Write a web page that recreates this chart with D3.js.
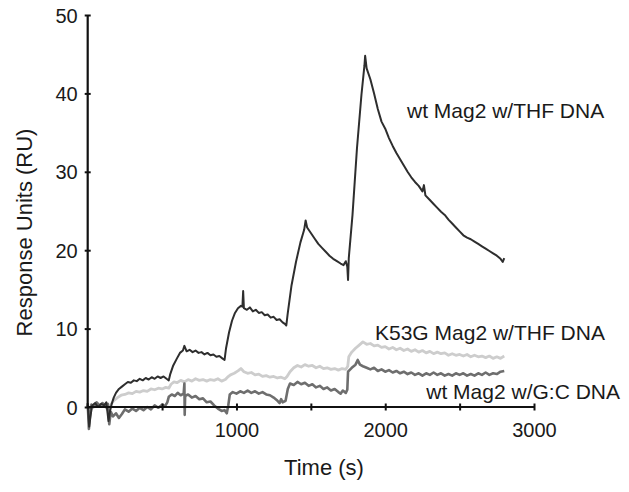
<!DOCTYPE html>
<html>
<head>
<meta charset="utf-8">
<script src="https://cdn.jsdelivr.net/npm/d3@7"></script>
<style>
  html, body { margin: 0; padding: 0; background: #fff; }
  svg { display: block; }
  text { font-family: "Liberation Sans", Arial, Helvetica, sans-serif; fill: #1a1a1a; }
</style>
</head>
<body>
<svg id="chart" width="629" height="492"></svg>
<script>
// ---- data (time in s, response in RU) ----
const xTicks = [500, 1000, 1500, 2000, 2500, 3000];
const xTickLabels = ["", "1000", "", "2000", "", "3000"];
const yTicks = [0, 10, 20, 30, 40, 50];
const yTickLabels = ["0", "10", "20", "30", "40", "50"];

const seriesNames = ["K53G Mag2 w/THF DNA", "wt Mag2 w/G:C DNA", "wt Mag2 w/THF DNA"];

const wtTHF = [
  [0,0.3],[10,-2.5],[20,-1.0],[30,0.2],[50,0.5],[70,0.0],[90,0.4],[110,0.2],[125,0.6],[140,-1.8],
  [150,-0.5],[160,0.3],[175,1.2],[190,1.8],[210,2.3],[230,2.6],[250,2.9],[270,3.2],[290,3.1],[310,3.4],
  [330,3.3],[350,3.6],[370,3.4],[390,3.7],[410,3.5],[430,3.8],[450,3.6],[470,3.9],[490,3.7],[510,3.9],
  [530,3.6],[545,3.4],[555,4.2],[575,5.3],[600,6.2],[620,6.9],[640,7.2],[650,7.8],[665,7.1],[685,7.3],
  [705,7.0],[725,7.2],[745,6.9],[765,7.0],[785,6.7],[805,6.9],[825,6.6],[845,6.7],[865,6.4],[885,6.5],
  [905,6.2],[920,6.0],[930,7.5],[950,9.5],[970,11.0],[990,12.0],[1010,12.6],[1030,12.9],[1040,12.8],[1045,14.8],
  [1050,12.6],[1070,12.4],[1090,12.7],[1110,12.2],[1130,12.4],[1150,12.0],[1170,12.1],[1190,11.7],[1210,11.8],[1230,11.4],
  [1250,11.5],[1270,11.1],[1290,11.2],[1310,10.8],[1325,10.6],[1335,10.4],[1345,12.0],[1370,15.5],[1400,18.5],[1430,21.0],
  [1455,22.6],[1465,23.8],[1475,22.9],[1500,22.2],[1525,21.5],[1550,20.8],[1575,20.3],[1600,19.8],[1625,19.3],[1650,18.9],
  [1675,18.6],[1700,18.3],[1720,18.1],[1735,18.6],[1745,17.9],[1750,16.2],[1755,19.0],[1780,24.5],[1810,33.0],[1840,39.8],
  [1860,43.5],[1865,44.8],[1875,43.2],[1900,41.8],[1925,40.0],[1950,38.0],[1975,36.4],[2000,35.5],[2025,34.3],[2050,33.3],
  [2075,32.4],[2100,31.6],[2125,30.8],[2150,30.0],[2175,29.3],[2200,28.7],[2225,28.2],[2250,27.5],[2260,28.3],[2270,27.0],
  [2300,26.4],[2325,25.9],[2350,25.4],[2375,24.9],[2400,24.5],[2425,23.9],[2450,23.4],[2475,22.9],[2500,22.4],[2525,21.9],
  [2550,21.6],[2575,21.4],[2600,21.1],[2625,20.8],[2650,20.5],[2675,20.2],[2700,19.9],[2725,19.6],[2750,19.3],[2775,18.9],
  [2790,18.5],[2800,19.0]
];

const k53gTHF = [
  [0,0.2],[10,-1.5],[25,0.0],[50,0.3],[80,0.1],[110,0.3],[140,-0.5],[155,0.3],[175,0.8],[200,1.2],
  [225,1.5],[250,1.6],[275,1.8],[300,1.7],[325,2.0],[350,1.9],[375,2.1],[400,2.0],[425,2.3],[450,2.2],
  [475,2.4],[500,2.3],[525,2.5],[545,2.4],[560,2.9],[580,3.2],[600,3.1],[625,3.4],[650,3.2],[675,3.5],
  [700,3.3],[725,3.6],[750,3.4],[775,3.5],[800,3.3],[825,3.5],[850,3.4],[875,3.6],[900,3.3],[925,3.5],
  [940,3.8],[960,4.1],[985,4.3],[1010,4.6],[1030,4.9],[1050,4.5],[1075,4.3],[1100,4.4],[1125,4.1],[1150,4.2],
  [1175,3.9],[1200,4.0],[1225,3.8],[1250,3.9],[1275,3.7],[1300,3.8],[1325,3.6],[1340,3.9],[1360,4.5],[1385,5.0],
  [1410,5.3],[1435,5.1],[1460,5.4],[1485,5.2],[1510,5.3],[1535,5.0],[1560,5.2],[1585,4.9],[1610,5.0],[1635,4.8],
  [1660,4.9],[1685,4.7],[1710,4.9],[1735,4.8],[1748,5.2],[1755,6.4],[1775,7.0],[1800,7.5],[1825,7.9],[1850,8.3],
  [1875,8.0],[1900,8.1],[1925,7.8],[1950,7.9],[1975,7.6],[2000,7.7],[2025,7.4],[2050,7.6],[2075,7.3],[2100,7.5],
  [2125,7.2],[2150,7.4],[2175,7.1],[2200,7.3],[2225,7.0],[2250,7.2],[2275,6.9],[2300,7.1],[2325,6.8],[2350,7.0],
  [2375,6.8],[2400,6.9],[2425,6.6],[2450,6.8],[2475,6.6],[2500,6.7],[2525,6.5],[2550,6.7],[2575,6.4],[2600,6.6],
  [2625,6.4],[2650,6.5],[2675,6.3],[2700,6.5],[2725,6.2],[2750,6.4],[2775,6.2],[2800,6.5]
];

const wtGC = [
  [0,0.5],[8,-2.8],[15,-1.2],[25,0.3],[40,0.0],[60,0.6],[80,0.2],[100,0.5],[120,0.0],[135,0.4],
  [145,-2.2],[155,-0.6],[170,-1.2],[190,-0.8],[210,-1.4],[230,-0.9],[250,-0.3],[275,-0.6],[300,-0.2],[325,-0.5],
  [350,-0.1],[375,-0.4],[400,0.0],[425,-0.3],[450,0.2],[475,-0.1],[500,0.3],[520,0.1],[535,0.6],[545,1.3],
  [565,1.6],[585,1.4],[605,1.8],[625,1.5],[645,1.7],[650,3.0],[652,-1.0],[655,1.4],[675,1.6],[700,1.2],
  [725,1.4],[750,1.0],[775,1.1],[800,0.6],[825,0.7],[850,0.2],[875,-0.2],[900,-0.5],[920,-0.4],[935,-0.8],
  [945,0.2],[955,1.6],[975,1.9],[1000,1.7],[1025,2.0],[1050,1.8],[1075,2.1],[1100,1.8],[1125,2.0],[1150,1.7],
  [1175,1.9],[1200,1.6],[1225,1.5],[1250,1.2],[1270,0.9],[1290,0.5],[1300,1.0],[1310,0.6],[1330,0.8],[1345,2.3],
  [1360,3.0],[1385,2.8],[1410,3.2],[1435,2.9],[1460,3.1],[1485,2.7],[1510,2.9],[1535,2.5],[1560,2.7],[1585,2.3],
  [1610,2.5],[1635,2.1],[1660,2.3],[1685,1.9],[1700,1.7],[1715,2.1],[1735,1.8],[1745,2.2],[1750,4.5],[1775,5.0],
  [1800,5.4],[1815,6.0],[1830,5.4],[1850,5.2],[1875,5.0],[1900,4.8],[1925,5.0],[1950,4.6],[1975,4.8],[2000,4.5],
  [2025,4.7],[2050,4.4],[2075,4.6],[2100,4.3],[2125,4.5],[2150,4.2],[2175,4.4],[2200,4.1],[2225,4.3],[2250,4.0],
  [2275,4.3],[2300,4.1],[2325,4.4],[2350,4.1],[2375,4.3],[2400,4.0],[2425,4.2],[2450,4.0],[2475,4.3],[2500,4.1],
  [2525,4.3],[2550,4.0],[2575,4.2],[2600,4.0],[2625,4.3],[2650,4.1],[2675,4.4],[2700,4.1],[2725,4.3],[2750,4.2],
  [2775,4.5],[2800,4.6]
];

// ---- layout ----
const svg = d3.select("#chart");
const x = d3.scaleLinear().domain([0, 3000]).range([87.7, 534]);
const y = d3.scaleLinear().domain([0, 50]).range([407, 15]);

const line = d3.line().x(d => x(d[0])).y(d => y(d[1]));

const series = [
  { data: k53gTHF, color: "#cdcdcd", width: 2.8 },
  { data: wtGC, color: "#6e6e6e", width: 2.6 },
  { data: wtTHF, color: "#2e2e2e", width: 2.0 }
];

svg.append("g").selectAll("path").data(series).join("path")
  .attr("d", d => line(d.data))
  .attr("fill", "none")
  .attr("stroke", d => d.color)
  .attr("stroke-width", d => d.width)
  .attr("stroke-linejoin", "round");

// x axis
const xAxis = d3.axisBottom(x).tickValues(xTicks).tickSize(0).tickFormat((d, i) => xTickLabels[i]);
const gx = svg.append("g").attr("transform", `translate(0,${y(0)})`).call(xAxis);
gx.select(".domain").remove();
gx.append("line").attr("x1", x(0)).attr("x2", x(3000)).attr("stroke", "#111").attr("stroke-width", 2);
gx.selectAll(".tick").append("line").attr("y1", -3.5).attr("y2", 3.5).attr("stroke", "#111").attr("stroke-width", 2);
gx.selectAll(".tick text").attr("y", 30).attr("dy", 0).style("font-size", "20px")
  .style("font-family", '"Liberation Sans", Arial, sans-serif').attr("fill", "#1a1a1a");

// y axis
const yAxis = d3.axisLeft(y).tickValues(yTicks).tickSize(0).tickFormat((d, i) => yTickLabels[i]);
const gy = svg.append("g").attr("transform", `translate(${x(0)},0)`).call(yAxis);
gy.select(".domain").remove();
gy.append("line").attr("y1", y(0)).attr("y2", y(50)).attr("stroke", "#111").attr("stroke-width", 2.2);
gy.selectAll(".tick").append("line").attr("x1", -3).attr("x2", 3).attr("stroke", "#111").attr("stroke-width", 2);
gy.selectAll(".tick text").attr("x", -10).attr("dy", "0.35em").style("font-size", "20px")
  .style("font-family", '"Liberation Sans", Arial, sans-serif').attr("fill", "#1a1a1a");

// axis titles
svg.append("text").attr("x", 324).attr("y", 475).attr("text-anchor", "middle")
  .style("font-size", "22px").text("Time (s)");
svg.append("text").attr("transform", "translate(31.5,232.5) rotate(-90)").attr("text-anchor", "middle")
  .style("font-size", "22px").text("Response Units (RU)");

// series labels
svg.append("text").attr("x", 407).attr("y", 118).style("font-size", "21px").text(seriesNames[2]);
svg.append("text").attr("x", 375).attr("y", 340).style("font-size", "21px").text(seriesNames[0]);
svg.append("text").attr("x", 620).attr("y", 399).attr("text-anchor", "end").style("font-size", "21px").text(seriesNames[1]);
</script>
</body>
</html>
